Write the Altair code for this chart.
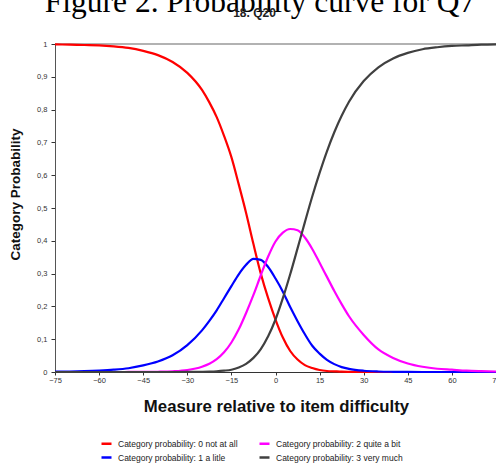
import altair as alt
import pandas as pd

# ---------------- data ----------------
x_values = [-75, -70, -65, -60, -55, -50, -45, -40, -35, -30, -25, -22.5, -20, -17.5,
            -15, -12.5, -10, -7.5, -5, -2.5, 0, 2.5, 5, 7.5, 10, 12.5, 15, 17.5, 20,
            22.5, 25, 30, 35, 40, 45, 50, 55, 60, 65, 70, 75]

p_not_at_all = [0.999, 0.998, 0.997, 0.996, 0.993, 0.988, 0.979, 0.966, 0.945, 0.912,
                0.860, 0.822, 0.777, 0.720, 0.655, 0.572, 0.485, 0.390, 0.300, 0.225,
                0.160, 0.105, 0.064, 0.038, 0.021, 0.012, 0.006, 0.003, 0.002, 0.001,
                0.0005, 0, 0, 0, 0, 0, 0, 0, 0, 0, 0]

p_a_little = [0.001, 0.0016, 0.0026, 0.0043, 0.007, 0.0115, 0.020, 0.032, 0.051, 0.082,
              0.127, 0.156, 0.188, 0.225, 0.262, 0.298, 0.327, 0.345, 0.342, 0.320,
              0.285, 0.245, 0.198, 0.155, 0.115, 0.080, 0.056, 0.037, 0.024, 0.015,
              0.0095, 0.0038, 0.0015, 0.0006, 0.0002, 0, 0, 0, 0, 0, 0]

p_quite_a_bit = [0, 0, 0, 0, 0, 0.0001, 0.0003, 0.0008, 0.0022, 0.006,
                 0.016, 0.025, 0.039, 0.060, 0.090, 0.130, 0.180, 0.235, 0.295, 0.352,
                 0.398, 0.425, 0.436, 0.432, 0.410, 0.375, 0.333, 0.290, 0.247, 0.207,
                 0.170, 0.113, 0.069, 0.043, 0.026, 0.016, 0.010, 0.007, 0.004, 0.0025, 0.0015]

p_very_much = [0, 0, 0, 0, 0, 0, 0, 0, 0, 0.0001,
               0.0005, 0.001, 0.002, 0.004, 0.007, 0.014, 0.025, 0.043, 0.070, 0.109,
               0.160, 0.225, 0.298, 0.377, 0.457, 0.535, 0.607, 0.673, 0.731, 0.781,
               0.824, 0.887, 0.929, 0.956, 0.973, 0.984, 0.990, 0.994, 0.996, 0.998, 0.999]

series_names = ["Category probability: 0 not at all",
                "Category probability: 1 a litle",
                "Category probability: 2 quite a bit",
                "Category probability: 3 very much"]
series_colors = ["#ff0000", "#0000ff", "#ff00ff", "#404040"]

x_ticks = [-75, -60, -45, -30, -15, 0, 15, 30, 45, 60, 75]
y_ticks = [0, 0.1, 0.2, 0.3, 0.4, 0.5, 0.6, 0.7, 0.8, 0.9, 1]

page_title = ["Figure 2. Probability curve for Q7"]
chart_title = ["18. Q20"]
x_title = "Measure relative to item difficulty"
y_title = "Category Probability"

# ---------------- build table ----------------
rows = []
for name, vals in zip(series_names, [p_not_at_all, p_a_little, p_quite_a_bit, p_very_much]):
    for xv, pv in zip(x_values, vals):
        rows.append({"x": xv, "p": pv, "series": name})
df = pd.DataFrame(rows)

W, H = 441, 328
PL, PT = 55, 44
FONT = "Liberation Sans"

x_scale = alt.Scale(domain=[-75, 75], nice=False, zero=False)
y_scale = alt.Scale(domain=[0, 1], nice=False)

# top border line of the plot frame
top_rule = alt.Chart(pd.DataFrame({"k": [0]})).mark_rule(color="#999", strokeWidth=1.5).encode(
    x=alt.value(0), x2=alt.value(W), y=alt.value(0)
)

lines = alt.Chart(df).mark_line(strokeWidth=2.2, interpolate="monotone").encode(
    x=alt.X("x:Q", scale=x_scale,
            axis=alt.Axis(values=x_ticks, grid=False, domainColor="#333", tickColor="#333",
                          tickSize=3, labelPadding=1, labelFlush=False, labelOverlap=False,
                          labelFont=FONT, labelFontSize=7.5, labelColor="#333",
                          title=x_title, titleFont=FONT, titleFontSize=16.75, titleFontWeight="bold",
                          titleColor="#111", titleX=221, titleY=39, titleAlign="center",
                          titleBaseline="alphabetic")),
    y=alt.Y("p:Q", scale=y_scale,
            axis=alt.Axis(values=y_ticks, tickCount=11, grid=False, domainColor="#555",
                          tickColor="#333", tickSize=4, labelPadding=4, labelOverlap=False,
                          labelFlush=False,
                          labelExpr="replace(format(datum.value, '~g'), '.', ',')",
                          labelFont=FONT, labelFontSize=7.5, labelColor="#333",
                          title=y_title, titleFont=FONT, titleFontSize=13.5, titleFontWeight="bold",
                          titleColor="#111", titleX=-40, titleY=150, titleAngle=270,
                          titleAlign="center", titleBaseline="middle")),
    color=alt.Color("series:N",
                    scale=alt.Scale(domain=series_names, range=series_colors),
                    legend=alt.Legend(orient="none", legendX=45, legendY=393, columns=2,
                                      title=None, symbolType="stroke", symbolStrokeWidth=2.5,
                                      symbolSize=100, labelFont=FONT, labelFontSize=8.5,
                                      labelColor="#222", labelOffset=5, columnPadding=16,
                                      rowPadding=2, padding=0, labelLimit=200)),
)

big_title = alt.Chart(pd.DataFrame({"t": page_title})).mark_text(
    font="Liberation Serif", fontSize=31.5, color="#000", align="center", baseline="alphabetic"
).encode(text="t:N", x=alt.value(205), y=alt.value(-32))

small_title = alt.Chart(pd.DataFrame({"t": chart_title})).mark_text(
    font=FONT, fontSize=12, fontWeight="bold", color="#222", align="center", baseline="middle"
).encode(text="t:N", x=alt.value(199.5), y=alt.value(-31.5))

chart = alt.layer(top_rule, lines, big_title, small_title).properties(
    width=W, height=H,
    padding={"left": PL, "top": PT, "right": 0, "bottom": 463 - PT - H},
    autosize=alt.AutoSizeParams(type="none"),
    background="white",
).configure_view(stroke=None)

chart.save("out.html", embed_options={"renderer": "svg", "actions": False})
